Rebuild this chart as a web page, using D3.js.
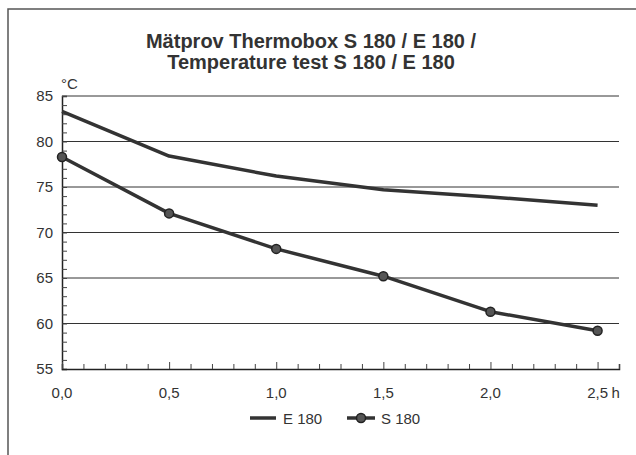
<!DOCTYPE html>
<meta charset="utf-8">
<script src="https://d3js.org/d3.v7.min.js"></script>
<style>
  body { margin: 0; background: #fff; }
  text { font-family: "Liberation Sans", Arial, sans-serif; fill: #333; }
</style>
<div id="chart"></div>
<script>

// hours
var hours = [0, 0.5, 1.0, 1.5, 2.0, 2.5];
// temperatures (°C)
var e180 = [83.3, 78.4, 76.2, 74.7, 73.9, 73.0];
var s180 = [78.3, 72.1, 68.2, 65.2, 61.3, 59.2];
var xTicks = [0, 0.5, 1.0, 1.5, 2.0, 2.5];
var yTicks = [55, 60, 65, 70, 75, 80, 85];
var titleLines = ["Mätprov Thermobox S 180 / E 180 /", "Temperature test S 180 / E 180"];

var width = 636, height = 455;
var margin = {top: 96, right: 16, bottom: 86, left: 62};

var svg = d3.select("#chart")
  .append("svg")
    .attr("width", width)
    .attr("height", height);

// frame of the scanned page
svg.append("rect")
  .attr("x", 8).attr("y", 9)
  .attr("width", width + 20).attr("height", height + 20)
  .attr("fill", "none")
  .attr("stroke", "#555")
  .attr("stroke-width", 1.5);

var x = d3.scaleLinear()
  .domain([0, 2.6])
  .range([margin.left, width - margin.right - 1]);

var y = d3.scaleLinear()
  .domain([55, 85])
  .range([height - margin.bottom, margin.top]);

// title
svg.append("g").selectAll("text")
  .data(titleLines)
  .enter().append("text")
    .attr("x", 311)
    .attr("y", function(d, i) { return 48 + i * 21; })
    .attr("text-anchor", "middle")
    .style("font-size", "20px")
    .style("font-weight", "bold")
    .text(function(d) { return d; });

// grid lines
svg.append("g").selectAll("line")
  .data(yTicks.filter(function(d) { return d > 55; }))
  .enter().append("line")
    .attr("x1", x(0)).attr("x2", x(2.6))
    .attr("y1", function(d) { return y(d); })
    .attr("y2", function(d) { return y(d); })
    .attr("stroke", "#333")
    .attr("stroke-width", 1);

// y axis with minor ticks pointing inward
var yAxis = svg.append("g")
  .attr("transform", "translate(" + x(0) + ",0)")
  .call(d3.axisRight(y).ticks(30).tickSize(5).tickFormat(""));
yAxis.select(".domain").attr("stroke", "#222").attr("stroke-width", 1.5);
yAxis.selectAll(".tick line").attr("stroke", "#444");

svg.append("g").selectAll("text")
  .data(yTicks)
  .enter().append("text")
    .attr("x", 53)
    .attr("y", function(d) { return y(d) + 5; })
    .attr("text-anchor", "end")
    .style("font-size", "15px")
    .text(function(d) { return d; });

svg.append("text")
  .attr("x", 61).attr("y", 89)
  .style("font-size", "15px")
  .text("°C");

// x axis with minor ticks pointing inward
var xAxis = svg.append("g")
  .attr("transform", "translate(0," + y(55) + ")")
  .call(d3.axisTop(x).ticks(26).tickSize(5).tickFormat(""));
xAxis.select(".domain").attr("stroke", "#222").attr("stroke-width", 1.5);
xAxis.selectAll(".tick line")
  .attr("stroke", "#444")
  .attr("y2", function(d) { return Math.abs(d * 2 - Math.round(d * 2)) < 1e-6 ? -7 : -5; });

svg.append("g").selectAll("text")
  .data(xTicks)
  .enter().append("text")
    .attr("x", function(d) { return x(d); })
    .attr("y", y(55) + 29)
    .attr("text-anchor", "middle")
    .style("font-size", "15px")
    .text(function(d) { return d3.format(".1f")(d).replace(".", ","); });

svg.append("text")
  .attr("x", x(2.5) + 14)
  .attr("y", y(55) + 29)
  .style("font-size", "15px")
  .text("h");

// series
var line = d3.line()
  .x(function(d, i) { return x(hours[i]); })
  .y(function(d) { return y(d); });

svg.append("path")
  .datum(e180)
  .attr("fill", "none")
  .attr("stroke", "#333")
  .attr("stroke-width", 3.5)
  .attr("stroke-linejoin", "round")
  .attr("d", line);

svg.append("path")
  .datum(s180)
  .attr("fill", "none")
  .attr("stroke", "#333")
  .attr("stroke-width", 3.5)
  .attr("stroke-linejoin", "round")
  .attr("d", line);

svg.append("g").selectAll("circle")
  .data(s180)
  .enter().append("circle")
    .attr("cx", function(d, i) { return x(hours[i]); })
    .attr("cy", function(d) { return y(d); })
    .attr("r", 4.5)
    .attr("fill", "#555")
    .attr("stroke", "#222")
    .attr("stroke-width", 1.5);

// legend
var legend = svg.append("g");
legend.append("line")
  .attr("x1", 250).attr("x2", 276)
  .attr("y1", 418).attr("y2", 418)
  .attr("stroke", "#333").attr("stroke-width", 3.5);
legend.append("text")
  .attr("x", 283).attr("y", 424)
  .style("font-size", "15px")
  .text("E 180");
legend.append("line")
  .attr("x1", 347).attr("x2", 375)
  .attr("y1", 418).attr("y2", 418)
  .attr("stroke", "#333").attr("stroke-width", 3.5);
legend.append("circle")
  .attr("cx", 361).attr("cy", 418).attr("r", 4.5)
  .attr("fill", "#555").attr("stroke", "#222").attr("stroke-width", 1.5);
legend.append("text")
  .attr("x", 381).attr("y", 424)
  .style("font-size", "15px")
  .text("S 180");

</script>
